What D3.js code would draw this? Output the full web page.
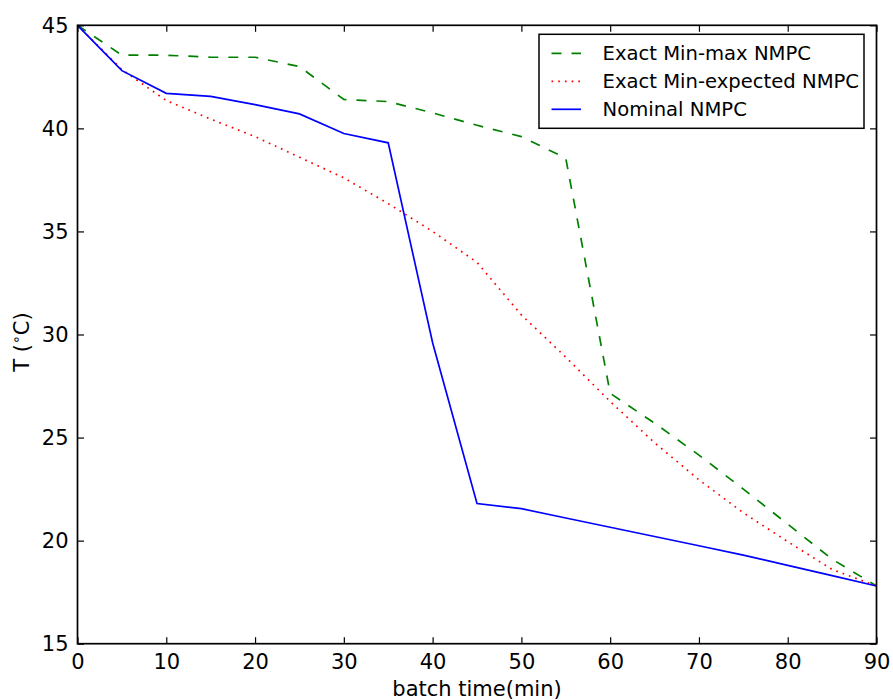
<!DOCTYPE html>
<html>
<head>
<meta charset="utf-8">
<script src="https://cdn.jsdelivr.net/npm/d3@7"></script>
<style>
  body { margin: 0; background: #fff; }
  svg text { font-family: "DejaVu Sans", sans-serif; }
</style>
</head>
<body>
<div id="chart"></div>
<script>
// batch time (min) and temperature trajectories (deg C)
var time = [0, 5, 10, 15, 20, 25, 30, 35, 40, 45, 50, 55, 60, 65, 70, 75, 80, 85, 90];
var minMax = [45, 43.55, 43.55, 43.45, 43.45, 43.0, 41.4, 41.3, 40.75, 40.15, 39.6, 38.55, 27.15, 25.7, 24.15, 22.5, 20.8, 19.1, 17.8];
var minExpected = [45, 42.85, 41.35, 40.45, 39.6, 38.6, 37.6, 36.35, 35.0, 33.5, 30.95, 28.9, 26.75, 24.75, 22.95, 21.35, 19.95, 18.6, 17.8];
var nominal = [45, 42.8, 41.7, 41.55, 41.15, 40.7, 39.75, 39.3, 29.6, 21.8, 21.55, 21.1, 20.65, 20.2, 19.75, 19.3, 18.8, 18.3, 17.8];

var xTicks = [0, 10, 20, 30, 40, 50, 60, 70, 80, 90];
var yTicks = [15, 20, 25, 30, 35, 40, 45];

var seriesNames = ["Exact Min-max NMPC", "Exact Min-expected NMPC", "Nominal NMPC"];
var seriesColors = ["#008000", "#ff0000", "#0000ff"];
var seriesDash = ["10,10", "1.7,5", null];
var seriesValues = [minMax, minExpected, nominal];

// ---------------------------------------------------------------------//
//                              Setup                                   //
// ---------------------------------------------------------------------//

var width = 893, height = 700;
var plotLeft = 77.5, plotRight = 876.5, plotTop = 25.3, plotBottom = 643.7;

var svg = d3.select("#chart").append("svg")
  .attr("width", width)
  .attr("height", height);

var x = d3.scaleLinear().domain([0, 90]).range([plotLeft, plotRight]);
var y = d3.scaleLinear().domain([15, 45]).range([plotBottom, plotTop]);

// ---------------------------------------------------------------------//
//                              Lines                                   //
// ---------------------------------------------------------------------//

var line = d3.line()
  .x(function(d, i) { return x(time[i]); })
  .y(function(d) { return y(d); });

var plot = svg.append("g");

seriesValues.forEach(function(vals, k) {
  plot.append("path")
    .datum(vals)
    .attr("d", line)
    .attr("fill", "none")
    .attr("stroke", seriesColors[k])
    .attr("stroke-width", 1.7)
    .attr("stroke-dasharray", seriesDash[k])
    .attr("stroke-linejoin", "miter");
});

// ---------------------------------------------------------------------//
//                         Axes (ticks on all sides)                    //
// ---------------------------------------------------------------------//

var tickLen = 6.5;

svg.append("g")
  .attr("transform", "translate(0," + plotBottom + ")")
  .call(d3.axisBottom(x).tickValues(xTicks).tickSizeInner(-tickLen).tickSizeOuter(0).tickPadding(10))
  .call(function(g) {
    g.select(".domain").remove();
    g.selectAll("text").attr("font-size", 21).attr("fill", "#000")
      .attr("font-family", "DejaVu Sans");
  });

svg.append("g")
  .attr("transform", "translate(0," + plotTop + ")")
  .call(d3.axisTop(x).tickValues(xTicks).tickSizeInner(-tickLen).tickSizeOuter(0).tickFormat(""))
  .call(function(g) { g.select(".domain").remove(); });

svg.append("g")
  .attr("transform", "translate(" + plotLeft + ",0)")
  .call(d3.axisLeft(y).tickValues(yTicks).tickSizeInner(-tickLen).tickSizeOuter(0).tickPadding(9))
  .call(function(g) {
    g.select(".domain").remove();
    g.selectAll("text").attr("font-size", 21).attr("fill", "#000")
      .attr("font-family", "DejaVu Sans");
  });

svg.append("g")
  .attr("transform", "translate(" + plotRight + ",0)")
  .call(d3.axisRight(y).tickValues(yTicks).tickSizeInner(-tickLen).tickSizeOuter(0).tickFormat(""))
  .call(function(g) { g.select(".domain").remove(); });

svg.selectAll(".tick line").attr("stroke", "#000").attr("stroke-width", 1.2);

// frame
svg.append("rect")
  .attr("x", plotLeft).attr("y", plotTop)
  .attr("width", plotRight - plotLeft).attr("height", plotBottom - plotTop)
  .attr("fill", "none")
  .attr("stroke", "#000")
  .attr("stroke-width", 1.7);

// axis labels
svg.append("text")
  .attr("x", (plotLeft + plotRight) / 2)
  .attr("y", 696)
  .attr("text-anchor", "middle")
  .attr("font-size", 21)
  .text("batch time(min)");

var yl = svg.append("text")
  .attr("transform", "translate(29," + 342 + ") rotate(-90)")
  .attr("text-anchor", "middle")
  .attr("font-size", 21);
yl.append("tspan").text("T (");
yl.append("tspan").attr("font-size", 14).attr("dy", -8).text("\u2218");
yl.append("tspan").attr("dy", 8).text("C)");

// ---------------------------------------------------------------------//
//                              Legend                                  //
// ---------------------------------------------------------------------//

var legend = svg.append("g");
legend.append("rect")
  .attr("x", 539).attr("y", 34.3)
  .attr("width", 325).attr("height", 94)
  .attr("fill", "#fff")
  .attr("stroke", "#000")
  .attr("stroke-width", 1.5);

seriesNames.forEach(function(name, k) {
  var cy = 53.3 + k * 28;
  legend.append("line")
    .attr("x1", 551.5).attr("x2", 581)
    .attr("y1", cy).attr("y2", cy)
    .attr("stroke", seriesColors[k])
    .attr("stroke-width", 1.7)
    .attr("stroke-dasharray", seriesDash[k]);
  legend.append("text")
    .attr("x", 602.5)
    .attr("y", cy + 7)
    .attr("font-size", 19.6)
    .text(name);
});
</script>
</body>
</html>
